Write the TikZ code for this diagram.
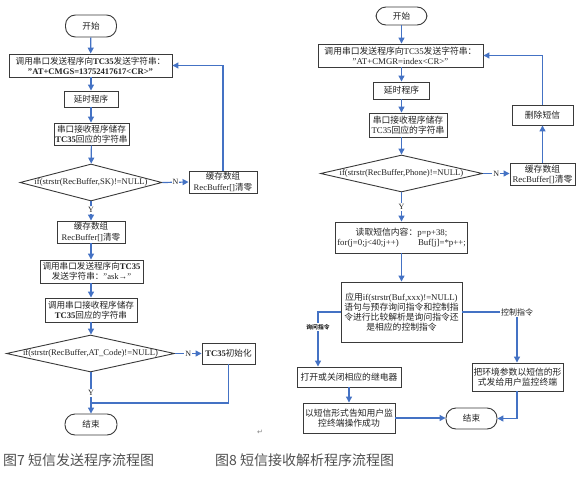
\documentclass[tikz,border=0pt]{standalone}
\usepackage{fontspec}
\setmainfont{Liberation Serif}
\newfontfamily\cjk{Noto Sans CJK SC}
\newfontfamily\dejavu{DejaVu Sans}
\usetikzlibrary{shapes.geometric,arrows.meta}
\newcommand\zh[1]{{\cjk #1}}
\newcommand\dq{\symbol{34}}
\definecolor{lineblue}{HTML}{4472C4}
\definecolor{boxgray}{HTML}{3A3A3A}
\definecolor{textgray}{HTML}{222222}
\definecolor{capgray}{HTML}{505050}
\tikzset{
  box/.style={draw=boxgray, line width=0.9pt, fill=white, inner sep=0pt, align=center,
    font=\fontsize{8.6}{10.2}\selectfont, text=textgray},
  rbox/.style={box, font=\fontsize{8.8}{10.2}\selectfont},
  term/.style={box, rounded corners=10pt},
  dia/.style={draw=boxgray, line width=0.9pt, fill=white, diamond, inner sep=0pt},
  diatext/.style={inner sep=0pt, font=\fontsize{8.6}{10}\selectfont, text=textgray},
  arr/.style={draw=lineblue, line width=1.2pt, -{Triangle[length=6pt,width=6pt]}},
  ln/.style={draw=lineblue, line width=1.2pt},
  lbl/.style={fill=white, inner sep=1pt, font=\fontsize{8}{8}\selectfont, text=textgray},
  tinylbl/.style={fill=white, inner sep=1pt, font=\cjk\bfseries\fontsize{5.8}{6}\selectfont, text=textgray},
  captext/.style={anchor=west, inner sep=0pt, font=\cjk\fontsize{14}{14}\selectfont, text=capgray}
}
\begin{document}
\begin{tikzpicture}[x=1pt,y=-1pt]
\useasboundingbox (0,0) rectangle (579,477);
% ---------------- left chart ----------------
\node[term, minimum width=51pt, minimum height=22pt] (s1) at (91,26) {\zh{开始}};
\node[box, minimum width=163pt, minimum height=23pt] (b1) at (90.5,65.5)
  {\zh{调用串口发送程序向}\textbf{TC35}\zh{发送字符串：}\\\textbf{\dq AT+CMGS=13752417617<CR>\dq}};
\node[box, minimum width=54pt, minimum height=16pt] (b2) at (91,99) {\zh{延时程序}};
\node[box, minimum width=75pt, minimum height=22pt] (b3) at (91.5,134)
  {\zh{串口接收程序储存}\\\textbf{TC35}\zh{回应的字符串}};
\node[dia, minimum width=142pt, minimum height=37pt] (d1) at (91,182.5) {};
\node[diatext] (d1t) at (d1) {if(strstr(RecBuffer,SK)!=NULL)};
\node[box, minimum width=68pt, minimum height=22pt] (r1) at (223,182)
  {\zh{缓存数组}\\RecBuffer[]\zh{清零}};
\node[box, minimum width=68pt, minimum height=22pt] (b4) at (91,232)
  {\zh{缓存数组}\\RecBuffer[]\zh{清零}};
\node[box, minimum width=103pt, minimum height=23pt] (b5) at (91.5,271.5)
  {\zh{调用串口发送程序向}\textbf{TC35}\\\zh{发送字符串：}\dq ask→\dq};
\node[box, minimum width=92pt, minimum height=24pt] (b6) at (91,310)
  {\zh{调用串口接收程序储存}\\\textbf{TC35}\zh{回应的字符串}};
\node[dia, minimum width=168pt, minimum height=37pt] (d2) at (90.5,353.5) {};
\node[diatext] (d2t) at (d2) {if(strstr(RecBuffer,AT\_Code)!=NULL)};
\node[box, minimum width=53pt, minimum height=21pt] (r2) at (228.5,353.5)
  {\textbf{TC35}\zh{初始化}};
\node[term, minimum width=52pt, minimum height=21pt] (e1) at (91,424.5) {\zh{结束}};
\coordinate (j1) at (91,403);

\draw[arr] (s1) -- (b1);
\draw[arr] (b1.south -| b2) -- (b2);
\draw[arr] (b2) -- (b2.south |- b3.north);
\draw[arr] (b3) -- (d1);
\draw[arr] (d1.east) -- (r1.west) node[lbl, midway] (n1) {N};
\draw[arr] (r1.north) |- (b1.east);
\draw[arr] (d1.south) -- (b4.north) node[lbl, pos=0.45] (y1) {Y};
\draw[arr] (b4) -- (b4.south |- b5.north);
\draw[arr] (b5.south -| b6) -- (b6);
\draw[arr] (b6.south) -- (b6.south |- d2.north);
\draw[arr] (d2.east) -- (r2.west) node[lbl, midway] (n2) {N};
\draw[ln] (r2.south) |- (j1);
\draw[arr] (d2.south -| e1) -- (e1.north) node[lbl, pos=0.5] (y2) {Y};

% ---------------- right chart ----------------
\node[term, minimum width=51pt, minimum height=18pt] (s2) at (401.5,16) {\zh{开始}};
\node[rbox, minimum width=165pt, minimum height=23pt] (c1) at (400.5,55.5)
  {\zh{调用串口发送程序向}TC35\zh{发送字符串：}\\\dq AT+CMGR=index<CR>\dq};
\node[rbox, minimum width=56pt, minimum height=17pt] (c2) at (401.5,90.5) {\zh{延时程序}};
\node[rbox, minimum width=78pt, minimum height=24pt] (c3) at (408,125)
  {\zh{串口接收程序储存}\\TC35\zh{回应的字符串}};
\node[rbox, minimum width=61pt, minimum height=20pt] (del) at (542.5,115) {\zh{删除短信}};
\node[dia, minimum width=162pt, minimum height=37pt] (d3) at (401.5,173.5) {};
\node[diatext] (d3t) at (d3) {if(strstr(RecBuffer,Phone)!=NULL)};
\node[rbox, minimum width=65pt, minimum height=22pt] (c4) at (542.5,174)
  {\zh{缓存数组}\\RecBuffer[]\zh{清零}};
\node[rbox, minimum width=132pt, minimum height=31pt] (c5) at (401.5,237.5)
  {\zh{读取短信内容：}p=p+38;\\for(j=0;j<40;j++)\hspace{2.2em}Buf[j]=*p++;};
\node[rbox, minimum width=121pt, minimum height=60pt] (c6) at (401.5,312)
  {\zh{应用}if(strstr(Buf,xxx)!=NULL)\\\zh{语句与预存询问指令和控制指}\\\zh{令进行比较解析是询问指令还}\\\zh{是相应的控制指令}};
\node[rbox, minimum width=104pt, minimum height=20pt] (o1) at (349,377) {\zh{打开或关闭相应的继电器}};
\node[rbox, minimum width=92pt, minimum height=30pt] (o2) at (349,418)
  {\zh{以短信形式告知用户监}\\\zh{控终端操作成功}};
\node[rbox, minimum width=91pt, minimum height=28pt] (o3) at (517.5,377)
  {\zh{把环境参数以短信的形}\\\zh{式发给用户监控终端}};
\node[term, minimum width=51pt, minimum height=21pt] (e2) at (471.5,418.5) {\zh{结束}};

\draw[arr] (s2) -- (s2.south |- c1.north);
\draw[arr] (c1.south -| c2) -- (c2);
\draw[arr] (c2) -- (c2.south |- c3.north);
\draw[arr] (d3.north |- c3.south) -- (d3.north);
\draw[arr] (d3.east) -- (d3.east -| c4.west) node[lbl, midway] (n3) {N};
\draw[arr] (c4.north) -- (del.south);
\draw[arr] (del.north) |- (c1.east);
\draw[arr] (d3.south) -- (c5.north) node[lbl, pos=0.5] (y3) {Y};
\draw[arr] (c5) -- (c6);
\draw[arr] (c6.west) -| ([xshift=-31pt]o1.north);
\node[tinylbl] (q) at (318,327) {询问指令};
\draw[arr] (c6.east) -| ([xshift=-0.5pt]o3.north);
\node[lbl, font=\cjk\fontsize{8}{8}\selectfont] (k) at (517,312) {控制指令};
\draw[arr] (o1) -- (o2);
\draw[arr] (o2.east) -- (o2.east -| e2.west);
\draw[arr] ([xshift=-0.5pt]o3.south) |- (e2.east);

% ---------------- captions ----------------
\node[captext] (cap7) at (3,460) {图7 短信发送程序流程图};
\node[captext] (cap8) at (215,460) {图8 短信接收解析程序流程图};
\node[font=\dejavu\fontsize{7}{7}\selectfont, text=gray, inner sep=0pt] (ret) at (260,432) {↵};
\end{tikzpicture}
\end{document}
